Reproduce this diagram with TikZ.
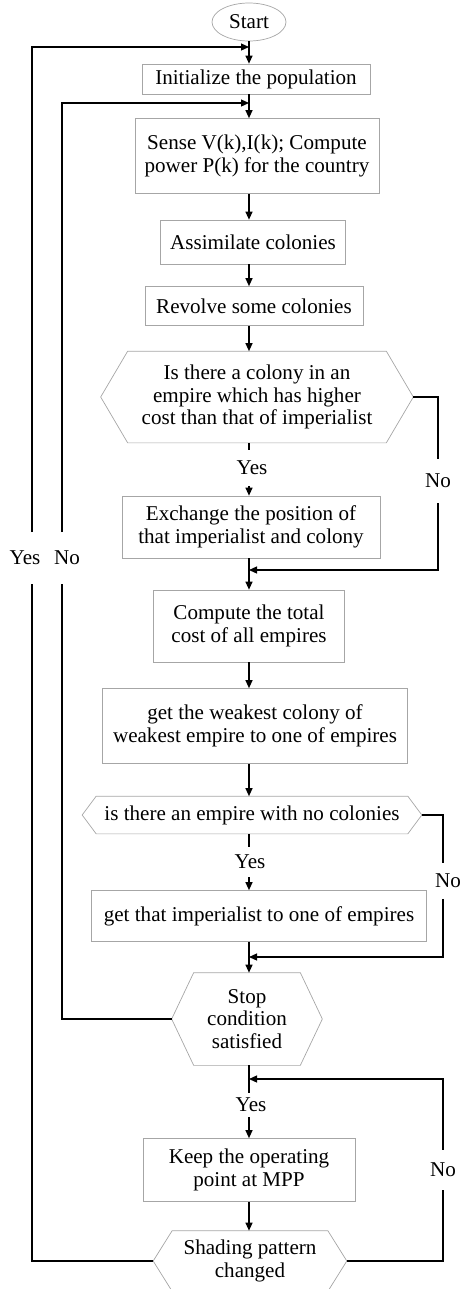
\documentclass[tikz,border=0pt]{standalone}
\usepackage{fontspec}
\setmainfont{Liberation Serif}
\usetikzlibrary{shapes,arrows.meta,calc}

\begin{document}
\begin{tikzpicture}[x=0.02cm, y=-0.02cm,
	every node/.style={font=\fontsize{12}{13}\selectfont},
	box_node/.style={draw=gray!70, line width=0.4pt, inner sep=0pt, align=center},
	hex_node/.style={inner sep=0pt, align=center},
	lbl_node/.style={inner sep=0pt},
	conn/.style={line width=0.7pt},
	arr/.style={conn, -{Triangle[length=1.6mm,width=1.4mm]}}]
				\useasboundingbox (0,0) rectangle (460,1289);
				
				\node[box_node, ellipse, minimum width=1.48cm, minimum height=0.76cm] (start) at (249,22) {Start};
				\node[box_node, minimum width=4.56cm, minimum height=0.6cm] (init) at (256,79) {Initialize the population};
				\node[box_node, minimum width=4.88cm, minimum height=1.5cm] (sense) at (257,156) {Sense V(k),I(k); Compute\\power P(k) for the country};
				\node[box_node, minimum width=3.7cm, minimum height=0.88cm] (assim) at (253,242) {Assimilate colonies};
				\node[box_node, minimum width=4.36cm, minimum height=0.78cm] (revolve) at (254,306) {Revolve some colonies};
				\node[hex_node, minimum width=6.24cm, minimum height=1.82cm] (dec1) at (257,397) {Is there a colony in an\\empire which has higher\\cost than that of imperialist};
				\node[box_node, minimum width=5.16cm, minimum height=1.24cm] (exch) at (251,527) {Exchange the position of\\that imperialist and colony};
				\node[box_node, minimum width=3.82cm, minimum height=1.44cm] (comp) at (249,626) {Compute the total\\cost of all empires};
				\node[box_node, minimum width=6.1cm, minimum height=1.5cm] (weak) at (255,726) {get the weakest colony of\\weakest empire to one of empires};
				\node[hex_node, minimum width=6.78cm, minimum height=0.74cm] (dec2) at (252,815) {is there an empire with no colonies};
				\node[box_node, minimum width=6.7cm, minimum height=1.02cm] (get) at (259,916) {get that imperialist to one of empires};
				\node[hex_node, minimum width=3cm, minimum height=1.84cm] (stop) at (247,1019) {Stop\\condition\\satisfied};
				\node[box_node, minimum width=4.24cm, minimum height=1.26cm] (keep) at (249,1170) {Keep the operating\\point at MPP};
				\node[hex_node, minimum width=3.86cm, minimum height=1.2cm] (shade) at (250,1261) {Shading pattern\\changed};
				
				% hexagon outlines
				\foreach \n/\d in {dec1/27, dec2/14, stop/22, shade/19}
					\draw[draw=gray!70, line width=0.4pt] (\n.west) -- ([xshift=\d*0.02cm]\n.north west) -- ([xshift=-\d*0.02cm]\n.north east) -- (\n.east) -- ([xshift=-\d*0.02cm]\n.south east) -- ([xshift=\d*0.02cm]\n.south west) -- cycle;
				
				\node[lbl_node, minimum height=0.7cm] (yes1) at (252,468) {Yes};
				\node[lbl_node, minimum height=0.6cm] (yes2) at (250,862) {Yes};
				\node[lbl_node, minimum height=0.48cm] (yes3) at (251,1105) {Yes};
				\node[lbl_node, minimum height=0.88cm] (no1) at (438,481) {No};
				\node[lbl_node, minimum height=0.7cm] (no2) at (448,881) {No};
				\node[lbl_node, minimum height=0.8cm] (no3) at (443,1170) {No};
				\node[lbl_node, minimum height=1.02cm] (yesL) at (25,558) {Yes};
				\node[lbl_node, minimum height=1.02cm] (noL) at (67,558) {No};
				
				\coordinate (ax) at (249,0);
				\coordinate (j1) at (249,47);
				\coordinate (j2) at (249,103);
				\coordinate (m1) at (249,570);
				\coordinate (m2) at (249,957);
				\coordinate (m3) at (249,1079);
				
				% main flow
				\draw[arr] (start) -- (ax |- init.north);
				\draw[arr] (ax |- init.south) -- (ax |- sense.north);
				\draw[arr] (ax |- sense.south) -- (ax |- assim.north);
				\draw[arr] (ax |- assim.south) -- (ax |- revolve.north);
				\draw[arr] (ax |- revolve.south) -- (ax |- dec1.north);
				\draw[conn] (ax |- dec1.south) -- (ax |- yes1.north);
				\draw[arr] (ax |- yes1.south) -- (ax |- exch.north);
				\draw[arr] (ax |- exch.south) -- (ax |- comp.north);
				\draw[arr] (ax |- comp.south) -- (ax |- weak.north);
				\draw[arr] (ax |- weak.south) -- (ax |- dec2.north);
				\draw[conn] (ax |- dec2.south) -- (ax |- yes2.north);
				\draw[arr] (ax |- yes2.south) -- (ax |- get.north);
				\draw[arr] (ax |- get.south) -- (ax |- stop.north);
				\draw[conn] (ax |- stop.south) -- (ax |- yes3.north);
				\draw[arr] (ax |- yes3.south) -- (ax |- keep.north);
				\draw[arr] (ax |- keep.south) -- (ax |- shade.north);
				
				% branches
				\draw[conn] (dec1.east) -| (no1.north);
				\draw[arr] (no1.south) |- (m1);
				\draw[conn] (dec2.east) -| ([xshift=-0.1cm]no2.north);
				\draw[arr] ([xshift=-0.1cm]no2.south) |- (m2);
				\draw[conn] (shade.east) -| (no3.south);
				\draw[arr] (no3.north) |- (m3);
				\draw[conn] (stop.west) -| ([xshift=-0.1cm]noL.south);
				\draw[arr] ([xshift=-0.1cm]noL.north) |- (j2);
				\draw[conn] (shade.west) -| ([xshift=0.14cm]yesL.south);
				\draw[arr] ([xshift=0.14cm]yesL.north) |- (j1);
			\end{tikzpicture}
\end{document}
